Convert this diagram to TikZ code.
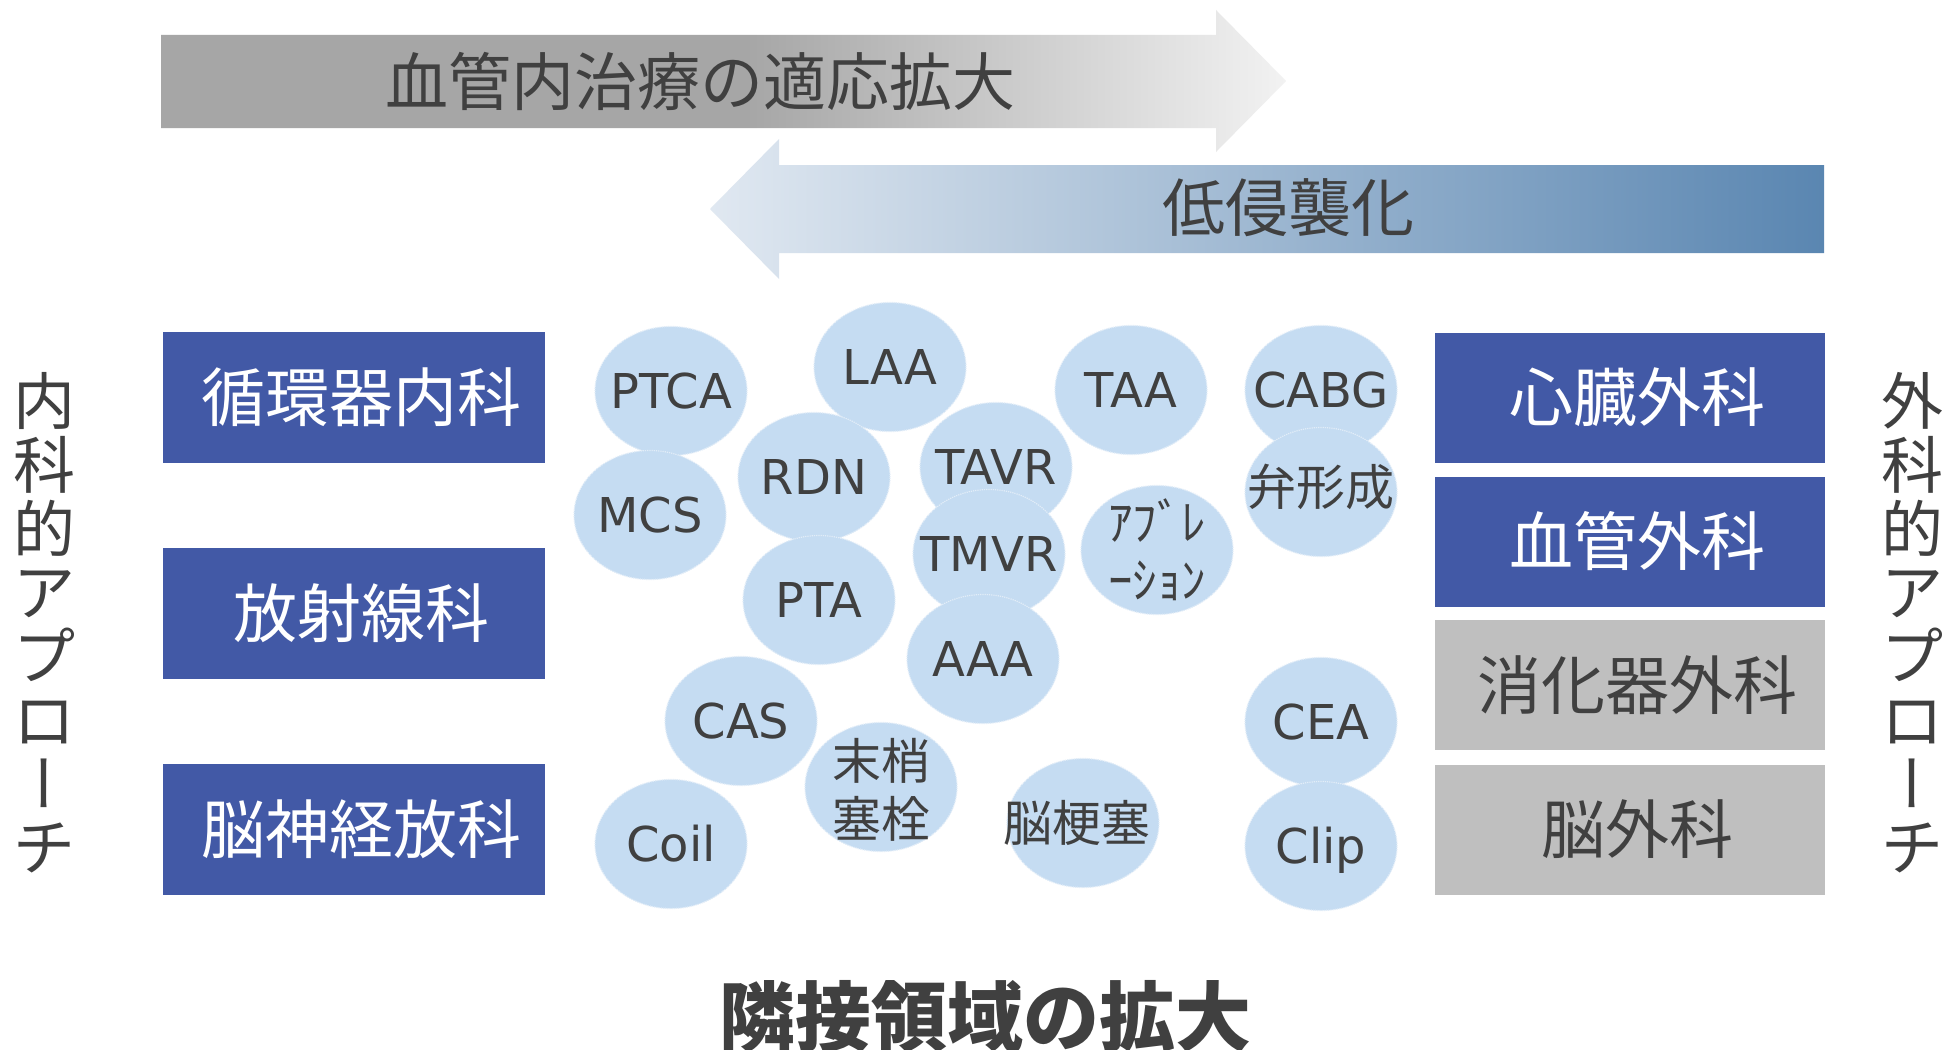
\documentclass[tikz,border=0pt]{standalone}
\usepackage{fontspec}
\usepackage{graphicx}
\setmainfont{DejaVu Sans}
\newfontfamily\jp{Noto Sans CJK JP}
\newfontfamily\jpv[RawFeature=+vert]{Noto Sans CJK JP}
\usetikzlibrary{shapes.geometric}
\definecolor{boxblue}{HTML}{4259A6}
\definecolor{boxgray}{HTML}{BFBFBF}
\definecolor{txt}{HTML}{404040}
\definecolor{bub}{HTML}{C5DCF2}
\definecolor{bubedge}{HTML}{E2EDF8}
\definecolor{gA}{HTML}{A6A6A6}
\definecolor{gB}{HTML}{F2F2F2}
\definecolor{bA}{HTML}{E0E8F1}
\definecolor{bB}{HTML}{5A86B1}
\pgfdeclarehorizontalshading{grayarrow}{100bp}{color(0bp)=(gA); color(25bp)=(gA); color(51bp)=(gA); color(75bp)=(gB); color(100bp)=(gB)}
\newcommand{\vbar}{{\jpv ー}}
\newcommand{\sh}{\hspace*{14pt}}
\begin{document}
\begin{tikzpicture}[x=1pt,y=-1pt,
  lbox/.style={rectangle, inner sep=0pt, minimum width=382pt, minimum height=131pt, fill=boxblue, text=white, font=\jp\fontsize{64}{70}\selectfont},
  rbox/.style={rectangle, inner sep=0pt, minimum width=390pt, minimum height=130pt, fill=boxblue, text=white, font=\jp\fontsize{64}{70}\selectfont},
  gbox/.style={rbox, fill=boxgray, text=txt},
  bubble/.style={ellipse, inner sep=0pt, minimum width=152pt, minimum height=129pt, fill=bub, draw=bubedge, line width=1.2pt, densely dotted},
  btext/.style={inner sep=0pt, text=txt, font=\fontsize{48}{54}\selectfont, text height=35pt, text depth=0pt},
  bjtext/.style={inner sep=0pt, text=txt, align=center, font=\jp\fontsize{49}{58}\selectfont},
  vtext/.style={inner sep=0pt, text=txt, align=center, font=\jp\fontsize{62}{63.7}\selectfont},
  arrowtext/.style={inner sep=0pt, text=txt, font=\jp\fontsize{63}{70}\selectfont}
]
\useasboundingbox (0,0) rectangle (1945,1049);
\fill[white] (0,0) rectangle (1945,1049);

% top arrow
\path[shading=grayarrow] (161,35) -- (1216,35) -- (1216,10) -- (1286,81) -- (1216,152) -- (1216,128) -- (161,128) -- cycle;
\node[arrowtext] (tekio) at (700,81) {血管内治療の適応拡大};

% second arrow
\path[left color=bA, right color=bB] (1824,165) -- (779,165) -- (779,139) -- (710,209) -- (779,279) -- (779,253) -- (1824,253) -- cycle;
\node[arrowtext] (teishinshu) at (1288,208) {低侵襲化};

% side texts
\node[vtext] (naika) at (44,623) {内\\科\\的\\ア\\プ\\ロ\\\vbar\\チ};
\node[vtext] (geka) at (1912,623) {外\\科\\的\\ア\\プ\\ロ\\\vbar\\チ};

% left boxes
\node[lbox] (junkan) at (354,397.5) {\sh 循環器内科};
\node[lbox] (hoshasen) at (354,613.5) {\sh 放射線科};
\node[lbox] (noshinkei) at (354,829.5) {\sh 脳神経放科};

% right boxes
\node[rbox] (shinzo) at (1630,397.5) {\sh 心臓外科};
\node[rbox] (kekkan) at (1630,541.5) {\sh 血管外科};
\node[gbox] (shoka) at (1630,685) {\sh 消化器外科};
\node[gbox] (noge) at (1630,829.5) {\sh 脳外科};

% bubbles
\node[bubble] (ptca) at (671,391) {};
\node[bubble] (laa) at (890,367) {};
\node[bubble] (taa) at (1131,390) {};
\node[bubble] (cabg) at (1321,390) {};
\node[bubble] (mcs) at (650,515) {};
\node[bubble] (rdn) at (814,477) {};
\node[bubble] (tavr) at (996,467) {};
\node[bubble] (bens) at (1321,492) {};
\node[bubble] (tmvr) at (989,554) {};
\node[bubble] (abl) at (1157,550) {};
\node[bubble] (pta) at (819,600) {};
\node[bubble] (aaa) at (983,659) {};
\node[bubble] (cas) at (741,721) {};
\node[bubble] (massho) at (881,787) {};
\node[bubble] (nokoso) at (1083,823) {};
\node[bubble] (cea) at (1321,722) {};
\node[bubble] (coil) at (671,844) {};
\node[bubble] (clip) at (1321,846) {};

% bubble texts
\node[btext] (ptca-t) at (ptca) {PTCA};
\node[btext] (laa-t) at (laa) {LAA};
\node[btext] (taa-t) at (taa) {TAA};
\node[btext] (cabg-t) at (cabg) {CABG};
\node[btext] (mcs-t) at (mcs) {MCS};
\node[btext] (rdn-t) at (rdn) {RDN};
\node[btext] (tavr-t) at (tavr) {TAVR};
\node[bjtext] (bens-t) at ([yshift=5pt]bens.center) {弁形成};
\node[btext] (tmvr-t) at (tmvr) {TMVR};
\node[bjtext] (abl-t) at (abl) {ｱﾌﾞﾚ\\ｰｼｮﾝ};
\node[btext] (pta-t) at (pta) {PTA};
\node[btext] (aaa-t) at (aaa) {AAA};
\node[btext] (cas-t) at (cas) {CAS};
\node[bjtext] (massho-t) at ([yshift=-3pt]massho.center) {末梢\\塞栓};
\node[bjtext] (nokoso-t) at ([xshift=-6pt]nokoso.center) {脳梗塞};
\node[btext] (cea-t) at (cea) {CEA};
\node[btext] (coil-t) at (coil) {Coil};
\node[btext] (clip-t) at (clip) {Clip};

% bottom title
\node[inner sep=0pt, anchor=base, text=txt, font=\jp\bfseries\fontsize{76}{80}\selectfont] (rinsetsu) at (985,1045) {隣接領域の拡大};
\end{tikzpicture}
\end{document}
